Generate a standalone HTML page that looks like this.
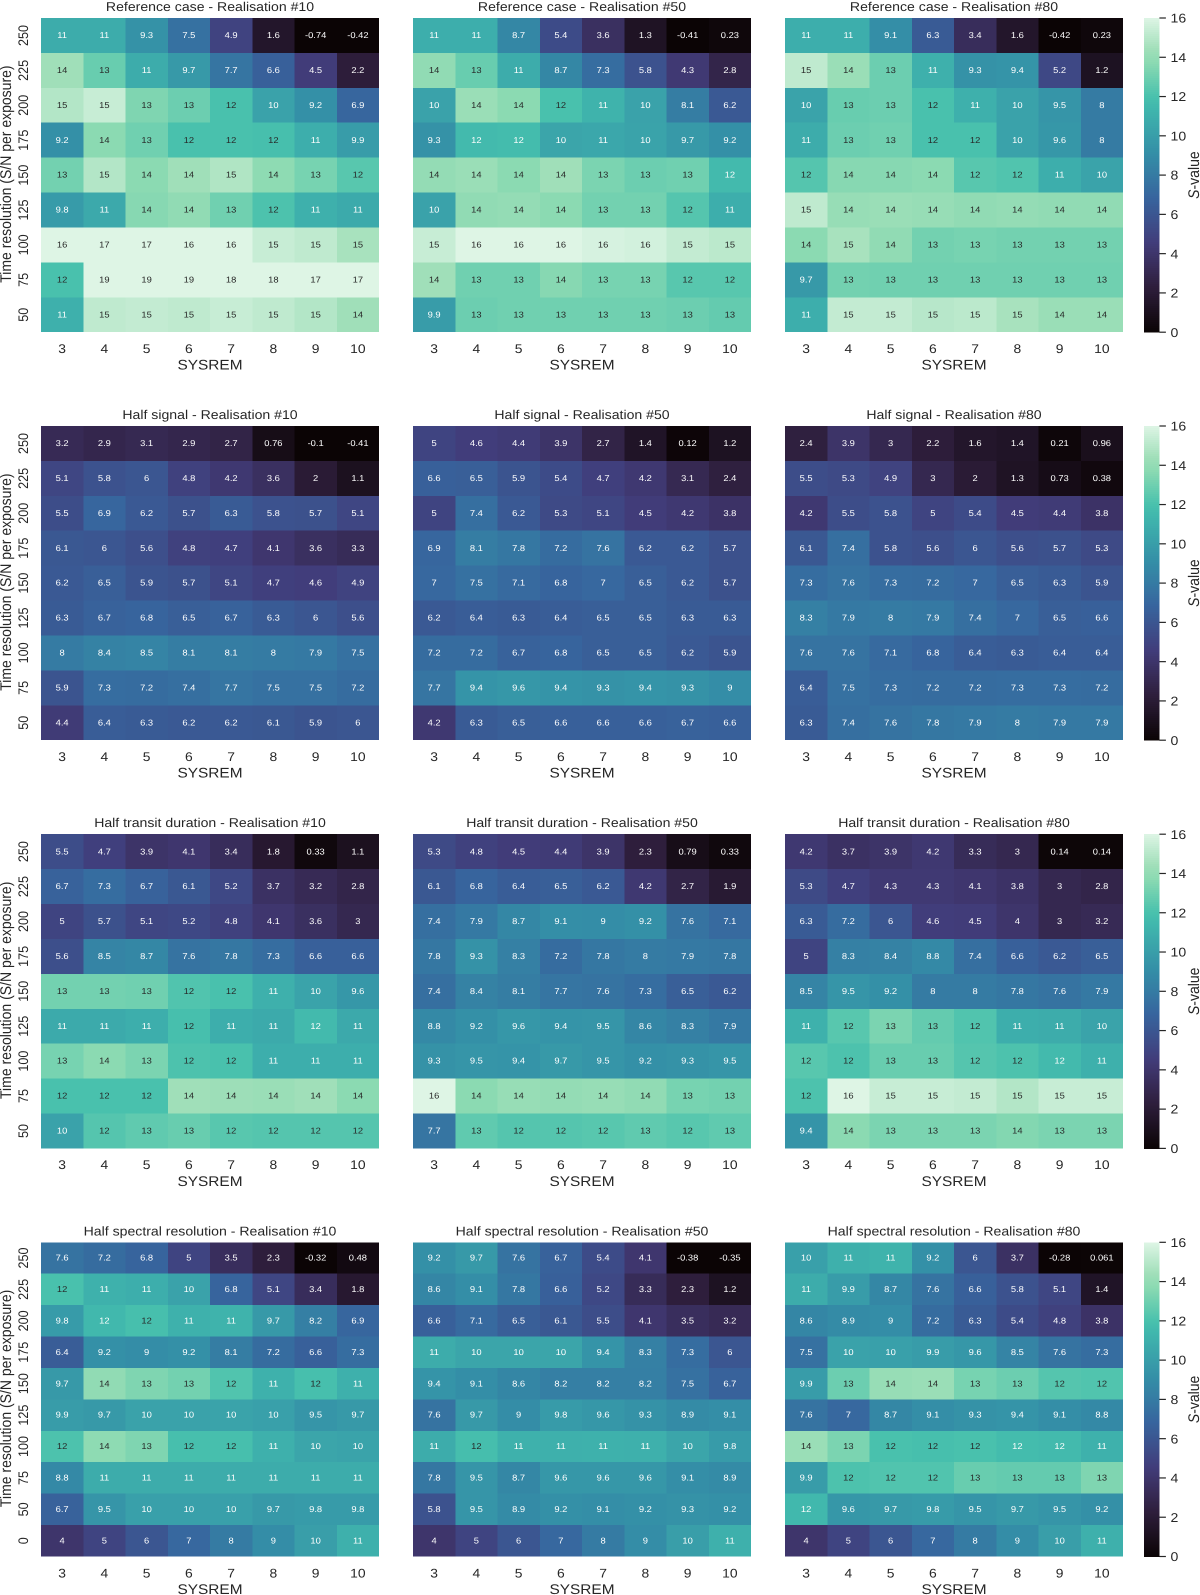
<!DOCTYPE html>
<html lang="en">
<head>
<meta charset="utf-8">
<title>S-value heatmaps</title>
<style>
html,body{margin:0;padding:0;background:#fff;}
svg{display:block;}
text{font-family:"Liberation Sans",Arial,sans-serif;fill:#262626;text-rendering:geometricPrecision;}
</style>
</head>
<body>
<svg id="figure" xmlns="http://www.w3.org/2000/svg" width="1200" height="1595" viewBox="0 0 1200 1595"></svg>
<script>
// ---- data ----
const sysremCategories = [3, 4, 5, 6, 7, 8, 9, 10];
const resolutionCategories = [250, 225, 200, 175, 150, 125, 100, 75, 50];
const resolutionCategoriesWithZero = [250, 225, 200, 175, 150, 125, 100, 75, 50, 0];
const colorbarTicks = [0, 2, 4, 6, 8, 10, 12, 14, 16];
const colorMin = 0;
const colorMax = 16;

const referenceCase10 = [
  [10.8,10.8,9.3,7.5,4.9,1.6,-0.74,-0.42],
  [14.4,12.8,10.8,9.7,7.7,6.6,4.5,2.2],
  [14.9,15.4,13.4,12.9,12.0,10.2,9.2,6.9],
  [9.2,13.7,13.0,12.0,12.0,11.9,10.9,9.9],
  [13.1,14.9,13.7,14.4,14.8,13.8,13.2,12.4],
  [9.8,10.6,13.6,13.9,13.0,12.1,11.0,10.7],
  [16,17,17,16,16,15.4,15.2,14.6],
  [12.0,19,19,19,18,18,17,17],
  [11.0,15.2,15.3,15.2,15.4,15.2,14.9,14.4]
];
const referenceCase50 = [
  [10.9,10.9,8.7,5.4,3.6,1.3,-0.41,0.23],
  [13.9,12.8,10.8,8.7,7.3,5.8,4.3,2.8],
  [10.2,14.2,13.7,12.0,11.2,10.2,8.1,6.2],
  [9.3,11.6,11.7,10.4,10.5,10.3,9.7,9.2],
  [14.0,14.2,13.7,14.4,13.3,12.9,13.0,11.6],
  [10.2,13.9,14.0,13.7,13.1,13.1,12.3,10.9],
  [15.4,16,16,16,15.8,15.7,15.3,15.1],
  [14.4,13.0,13.0,13.6,13.2,13.2,12.4,12.4],
  [9.9,12.9,13.0,13.0,13.0,13.0,12.9,12.7]
];
const referenceCase80 = [
  [10.9,10.9,9.1,6.3,3.4,1.6,-0.42,0.23],
  [15.2,14.2,12.9,11.0,9.3,9.4,5.2,1.2],
  [10.3,12.8,12.9,12.0,11.0,10.2,9.5,8],
  [10.8,12.9,13.0,12.0,12.0,10.2,9.6,8],
  [12.3,13.6,13.6,13.7,12.4,12.2,10.9,10.3],
  [15.2,14.1,14.2,14.1,13.9,14.0,13.9,13.9],
  [13.7,14.6,13.9,13.1,13.2,13.1,13.1,13.1],
  [9.7,13.1,13.0,13.0,13.0,13.0,13.0,13.0],
  [10.9,15.3,15.3,15.0,15.1,14.6,14.2,14.2]
];
const halfSignal10 = [
  [3.2,2.9,3.1,2.9,2.7,0.76,-0.1,-0.41],
  [5.1,5.8,6,4.8,4.2,3.6,2,1.1],
  [5.5,6.9,6.2,5.7,6.3,5.8,5.7,5.1],
  [6.1,6,5.6,4.8,4.7,4.1,3.6,3.3],
  [6.2,6.5,5.9,5.7,5.1,4.7,4.6,4.9],
  [6.3,6.7,6.8,6.5,6.7,6.3,6,5.6],
  [8,8.4,8.5,8.1,8.1,8,7.9,7.5],
  [5.9,7.3,7.2,7.4,7.7,7.5,7.5,7.2],
  [4.4,6.4,6.3,6.2,6.2,6.1,5.9,6]
];
const halfSignal50 = [
  [5,4.6,4.4,3.9,2.7,1.4,0.12,1.2],
  [6.6,6.5,5.9,5.4,4.7,4.2,3.1,2.4],
  [5,7.4,6.2,5.3,5.1,4.5,4.2,3.8],
  [6.9,8.1,7.8,7.2,7.6,6.2,6.2,5.7],
  [7,7.5,7.1,6.8,7,6.5,6.2,5.7],
  [6.2,6.4,6.3,6.4,6.5,6.5,6.3,6.3],
  [7.2,7.2,6.7,6.8,6.5,6.5,6.2,5.9],
  [7.7,9.4,9.6,9.4,9.3,9.4,9.3,9],
  [4.2,6.3,6.5,6.6,6.6,6.6,6.7,6.6]
];
const halfSignal80 = [
  [2.4,3.9,3,2.2,1.6,1.4,0.21,0.96],
  [5.5,5.3,4.9,3,2,1.3,0.73,0.38],
  [4.2,5.5,5.8,5,5.4,4.5,4.4,3.8],
  [6.1,7.4,5.8,5.6,6,5.6,5.7,5.3],
  [7.3,7.6,7.3,7.2,7,6.5,6.3,5.9],
  [8.3,7.9,8,7.9,7.4,7,6.5,6.6],
  [7.6,7.6,7.1,6.8,6.4,6.3,6.4,6.4],
  [6.4,7.5,7.3,7.2,7.2,7.3,7.3,7.2],
  [6.3,7.4,7.6,7.8,7.9,8,7.9,7.9]
];
const halfTransit10 = [
  [5.5,4.7,3.9,4.1,3.4,1.8,0.33,1.1],
  [6.7,7.3,6.7,6.1,5.2,3.7,3.2,2.8],
  [5,5.7,5.1,5.2,4.8,4.1,3.6,3],
  [5.6,8.5,8.7,7.6,7.8,7.3,6.6,6.6],
  [13.1,13.1,13.0,12.2,12.0,11.0,10.3,9.6],
  [10.7,10.7,10.9,11.9,10.9,10.7,11.6,10.6],
  [13.2,13.7,13.3,12.1,12.0,10.9,10.9,10.9],
  [12.0,12.0,12.0,14.4,14.3,14.2,14.4,13.7],
  [10.2,12.3,12.6,12.8,12.4,12.3,12.3,12.3]
];
const halfTransit50 = [
  [5.3,4.8,4.5,4.4,3.9,2.3,0.79,0.33],
  [6.1,6.8,6.4,6.5,6.2,4.2,2.7,1.9],
  [7.4,7.9,8.7,9.1,9,9.2,7.6,7.1],
  [7.8,9.3,8.3,7.2,7.8,8,7.9,7.8],
  [7.4,8.4,8.1,7.7,7.6,7.3,6.5,6.2],
  [8.8,9.2,9.6,9.4,9.5,8.6,8.3,7.9],
  [9.3,9.5,9.4,9.7,9.5,9.2,9.3,9.5],
  [16,13.7,14.1,14.0,14.1,13.9,13.2,13.1],
  [7.7,12.6,12.3,12.3,12.4,12.6,12.4,12.6]
];
const halfTransit80 = [
  [4.2,3.7,3.9,4.2,3.3,3,0.14,0.14],
  [5.3,4.7,4.3,4.3,4.1,3.8,3,2.8],
  [6.3,7.2,6,4.6,4.5,4,3,3.2],
  [5,8.3,8.4,8.8,7.4,6.6,6.2,6.5],
  [8.5,9.5,9.2,8,8,7.8,7.6,7.9],
  [11.1,12.4,13.3,12.7,12.2,10.9,10.8,10.3],
  [12.4,12.1,12.8,12.8,12.3,12.1,11.6,11.0],
  [12.1,16,15.4,15.4,15.3,14.9,15.4,15.4],
  [9.4,13.7,13.3,13.3,13.3,13.5,13.3,13.3]
];
const halfSpectral10 = [
  [7.6,7.2,6.8,5,3.5,2.3,-0.32,0.48],
  [12.0,11.1,10.9,10.2,6.8,5.1,3.4,1.8],
  [9.8,11.5,11.9,11.1,11.2,9.7,8.2,6.9],
  [6.4,9.2,9,9.2,8.1,7.2,6.6,7.3],
  [9.7,13.9,13.4,13.1,12.2,11.1,11.9,11.0],
  [9.9,9.7,10.2,10.2,10.3,10.1,9.5,9.7],
  [12.1,13.8,13.4,11.9,11.9,11.0,10.4,10.3],
  [8.8,10.8,10.8,10.8,10.8,10.8,10.8,10.8],
  [6.7,9.5,10.1,10.1,10.1,9.7,9.8,9.8],
  [4,5,6,7,8,9,10,11]
];
const halfSpectral50 = [
  [9.2,9.7,7.6,6.7,5.4,4.1,-0.38,-0.35],
  [8.6,9.1,7.8,6.6,5.2,3.3,2.3,1.2],
  [6.6,7.1,6.5,6.1,5.5,4.1,3.5,3.2],
  [10.8,10.4,10.4,10.4,9.4,8.3,7.3,6],
  [9.4,9.1,8.6,8.2,8.2,8.2,7.5,6.7],
  [7.6,9.7,9,9.8,9.6,9.3,8.9,9.1],
  [10.8,11.8,11.1,11.0,11.1,11.0,10.4,9.8],
  [7.8,9.5,8.7,9.6,9.6,9.6,9.1,8.9],
  [5.8,9.5,8.9,9.2,9.1,9.2,9.3,9.2],
  [4,5,6,7,8,9,10,11]
];
const halfSpectral80 = [
  [10.1,11.0,11.2,9.2,6,3.7,-0.28,0.061],
  [10.8,9.9,8.7,7.6,6.6,5.8,5.1,1.4],
  [8.6,8.9,9,7.2,6.3,5.4,4.8,3.8],
  [7.5,10.2,10.1,9.9,9.6,8.5,7.6,7.3],
  [9.9,12.9,14.1,14.2,13.2,12.9,12.3,12.2],
  [7.6,7,8.7,9.1,9.3,9.4,9.1,8.8],
  [14.2,13.3,12.0,11.9,12.0,11.7,11.6,11.1],
  [9.9,12.1,12.2,12.2,12.8,12.7,12.7,13.4],
  [11.5,9.6,9.7,9.8,9.5,9.7,9.5,9.2],
  [4,5,6,7,8,9,10,11]
];

const rowTitles = ["Reference case", "Half signal", "Half transit duration", "Half spectral resolution"];
const realisationNames = ["#10", "#50", "#80"];
const panelData = [
  [referenceCase10, referenceCase50, referenceCase80],
  [halfSignal10, halfSignal50, halfSignal80],
  [halfTransit10, halfTransit50, halfTransit80],
  [halfSpectral10, halfSpectral50, halfSpectral80]
];
const rowCategories = [resolutionCategories, resolutionCategories, resolutionCategories, resolutionCategoriesWithZero];

// mako colormap anchors (position 0-1, colour)
const makoPositions = [0, 0.143, 0.25, 0.286, 0.429, 0.5, 0.571, 0.714, 0.75, 0.857, 0.9, 1];
const makoColors = ["#0b0405","#2e1e3c","#3e356b","#413d7b","#37659e","#357ba3","#348fa7","#40b7ad","#49c1ad","#8bdab2","#a0dfb9","#def5e5"];

// ---- layout ----
const NS = "http://www.w3.org/2000/svg";
const svg = document.getElementById("figure");
const panelLefts = [41, 413, 785];
const panelWidth = 338;
const panelTops = [18, 426, 834.2, 1242.3];
const panelHeight = 314.2;
const colorbarLeft = 1144;
const colorbarWidth = 15.4;
const STRETCH = 1.1;

function hexToRgb(h) {
  return [parseInt(h.slice(1, 3), 16), parseInt(h.slice(3, 5), 16), parseInt(h.slice(5, 7), 16)];
}
function makoRgb(v) {
  const t = Math.max(0, Math.min(1, (v - colorMin) / (colorMax - colorMin)));
  let i = 0;
  while (i < makoPositions.length - 2 && t > makoPositions[i + 1]) i++;
  const f = (t - makoPositions[i]) / (makoPositions[i + 1] - makoPositions[i]);
  const a = hexToRgb(makoColors[i]);
  const b = hexToRgb(makoColors[i + 1]);
  return [0, 1, 2].map(k => Math.round(a[k] + (b[k] - a[k]) * f));
}
function cssColor(c) {
  return "rgb(" + c[0] + "," + c[1] + "," + c[2] + ")";
}
function luminance(c) {
  const l = c.map(x => {
    const s = x / 255;
    return s <= 0.03928 ? s / 12.92 : Math.pow((s + 0.055) / 1.055, 2.4);
  });
  return 0.2126 * l[0] + 0.7152 * l[1] + 0.0722 * l[2];
}
function formatValue(v) {
  return String(Number(v.toPrecision(2)));
}
function addText(parent, name, str, x, y, size, anchor, rotated, fill) {
  const el = document.createElementNS(NS, "text");
  
  
  el.setAttribute("font-size", size);
  el.setAttribute("text-anchor", anchor);
  const tf = rotated
    ? "translate(" + x + " " + y + ") rotate(-90) scale(1 " + STRETCH + ")"
    : "translate(" + x + " " + y + ") scale(" + STRETCH + " 1)";
  el.setAttribute("transform", tf);
  if (fill) el.style.fill = fill;
  el.textContent = str;
  parent.appendChild(el);
  return el;
}

function xScale(left, i) {
  return left + (i + 0.5) * panelWidth / sysremCategories.length;
}
function yScale(top, j, rows) {
  return top + (j + 0.5) * panelHeight / rows;
}

function drawPanel(rowIdx, colIdx) {
  const values = panelData[rowIdx][colIdx];
  const cats = rowCategories[rowIdx];
  const left = panelLefts[colIdx];
  const top = panelTops[rowIdx];
  const rows = cats.length;
  const cw = panelWidth / sysremCategories.length;
  const ch = panelHeight / rows;

  const g = document.createElementNS(NS, "g");
  
  
  svg.appendChild(g);

  values.forEach((row, j) => {
    row.forEach((v, i) => {
      const color = makoRgb(v);
      const rect = document.createElementNS(NS, "rect");
      
      
      rect.setAttribute("x", xScale(left, i) - cw / 2);
      rect.setAttribute("y", yScale(top, j, rows) - ch / 2);
      rect.setAttribute("width", cw);
      rect.setAttribute("height", ch);
      rect.setAttribute("fill", cssColor(color));
      rect.setAttribute("shape-rendering", "crispEdges");
      g.appendChild(rect);
    });
  });
  values.forEach((row, j) => {
    row.forEach((v, i) => {
      const color = makoRgb(v);
      const fill = luminance(color) > 0.408 ? "#262626" : "#ffffff";
      addText(g, "cell-value", formatValue(v), xScale(left, i), yScale(top, j, rows) + 2.6, 8.5, "middle", false, fill);
    });
  });

  addText(g, "panel-title", rowTitles[rowIdx] + " - Realisation " + realisationNames[colIdx], left + panelWidth / 2, top - 7, 12.8, "middle", false);
  sysremCategories.forEach((c, i) => {
    addText(g, "x-tick-label", String(c), xScale(left, i), top + panelHeight + 20.8, 12.6, "middle", false);
  });
  addText(g, "x-axis-title", "SYSREM", left + panelWidth / 2, top + panelHeight + 37.5, 14, "middle", false);

  if (colIdx === 0) {
    cats.forEach((c, j) => {
      addText(g, "y-tick-label", String(c), 28, yScale(top, j, rows), 12.6, "middle", true);
    });
    addText(g, "y-axis-title", "Time resolution (S/N per exposure)", 11, top + panelHeight / 2 - 1, 14, "middle", true);
  }
}

function drawColorbar(rowIdx) {
  const top = panelTops[rowIdx];
  const g = document.createElementNS(NS, "g");
  
  
  svg.appendChild(g);
  const steps = 157;
  const h = panelHeight / steps;
  for (let k = 0; k < steps; k++) {
    const v = colorMax - (k + 0.5) * (colorMax - colorMin) / steps;
    const rect = document.createElementNS(NS, "rect");
    
    
    rect.setAttribute("x", colorbarLeft);
    rect.setAttribute("y", top + k * h);
    rect.setAttribute("width", colorbarWidth);
    rect.setAttribute("height", h + 0.4);
    rect.setAttribute("fill", cssColor(makoRgb(v)));
    rect.setAttribute("shape-rendering", "crispEdges");
    g.appendChild(rect);
  }
  colorbarTicks.forEach(t => {
    const y = top + panelHeight * (1 - (t - colorMin) / (colorMax - colorMin));
    const line = document.createElementNS(NS, "line");
    
    
    line.setAttribute("x1", colorbarLeft + colorbarWidth);
    line.setAttribute("x2", colorbarLeft + colorbarWidth + 6.5);
    line.setAttribute("y1", y);
    line.setAttribute("y2", y);
    line.setAttribute("stroke", "#262626");
    line.setAttribute("stroke-width", "1.2");
    g.appendChild(line);
    addText(g, "colorbar-tick-label", String(t), 1170.5, y + 4.6, 12.8, "start", false);
  });
  const label = addText(g, "colorbar-title", "", 1199, top + panelHeight / 2, 14, "middle", true);
  const s = document.createElementNS(NS, "tspan");
  s.setAttribute("font-style", "italic");
  s.textContent = "S";
  label.appendChild(s);
  label.appendChild(document.createTextNode("-value"));
}

rowTitles.forEach((_, r) => {
  realisationNames.forEach((_, c) => drawPanel(r, c));
  drawColorbar(r);
});
</script>
</body>
</html>
